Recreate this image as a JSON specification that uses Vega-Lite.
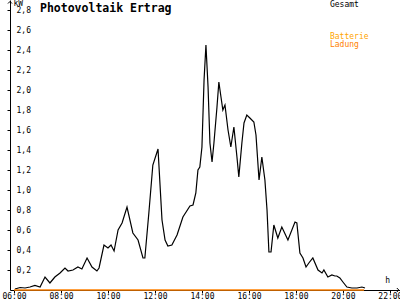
{
  "$schema": "https://vega.github.io/schema/vega-lite/v6.json",
  "width": 390,
  "height": 290,
  "autosize": "none",
  "padding": {"left": 10, "top": 0, "right": 0, "bottom": 10},
  "background": "white",
  "config": {"view": {"stroke": null}, "font": "DejaVu Sans Mono", "axis": {"labelOverlap": false, "grid": false, "title": null}},
  "title": {"text": "Photovoltaik Ertrag", "anchor": "start", "frame": "group", "orient": "top", "offset": -15, "dx": 30, "font": "DejaVu Sans Mono", "fontSize": 11.5, "fontWeight": "bold", "color": "black"},
  "datasets": {
    "gesamt": [
      {"t": 6.04, "kw": 0.01}, {"t": 6.26, "kw": 0.025}, {"t": 6.47, "kw": 0.02}, {"t": 6.68, "kw": 0.03},
      {"t": 6.89, "kw": 0.045}, {"t": 7.11, "kw": 0.03}, {"t": 7.32, "kw": 0.13}, {"t": 7.53, "kw": 0.07},
      {"t": 7.74, "kw": 0.13}, {"t": 7.96, "kw": 0.17}, {"t": 8.17, "kw": 0.22}, {"t": 8.30, "kw": 0.19},
      {"t": 8.51, "kw": 0.20}, {"t": 8.72, "kw": 0.23}, {"t": 8.89, "kw": 0.21}, {"t": 9.11, "kw": 0.32},
      {"t": 9.32, "kw": 0.23}, {"t": 9.53, "kw": 0.19}, {"t": 9.62, "kw": 0.22}, {"t": 9.83, "kw": 0.45},
      {"t": 10.00, "kw": 0.42}, {"t": 10.13, "kw": 0.45}, {"t": 10.26, "kw": 0.39}, {"t": 10.43, "kw": 0.60},
      {"t": 10.60, "kw": 0.67}, {"t": 10.81, "kw": 0.83}, {"t": 11.06, "kw": 0.57}, {"t": 11.28, "kw": 0.50},
      {"t": 11.49, "kw": 0.32}, {"t": 11.57, "kw": 0.32}, {"t": 11.74, "kw": 0.77}, {"t": 11.91, "kw": 1.25},
      {"t": 12.13, "kw": 1.41}, {"t": 12.30, "kw": 0.70}, {"t": 12.43, "kw": 0.50}, {"t": 12.55, "kw": 0.44},
      {"t": 12.72, "kw": 0.45}, {"t": 12.94, "kw": 0.55}, {"t": 13.19, "kw": 0.73}, {"t": 13.49, "kw": 0.84},
      {"t": 13.62, "kw": 0.85}, {"t": 13.74, "kw": 0.97}, {"t": 13.83, "kw": 1.20}, {"t": 13.91, "kw": 1.23},
      {"t": 14.00, "kw": 1.43}, {"t": 14.09, "kw": 2.10}, {"t": 14.17, "kw": 2.45}, {"t": 14.26, "kw": 2.03},
      {"t": 14.34, "kw": 1.47}, {"t": 14.43, "kw": 1.28}, {"t": 14.51, "kw": 1.47}, {"t": 14.64, "kw": 1.83},
      {"t": 14.72, "kw": 2.08}, {"t": 14.81, "kw": 1.93}, {"t": 14.89, "kw": 1.80}, {"t": 14.98, "kw": 1.85},
      {"t": 15.11, "kw": 1.60}, {"t": 15.23, "kw": 1.43}, {"t": 15.36, "kw": 1.63}, {"t": 15.49, "kw": 1.33},
      {"t": 15.57, "kw": 1.13}, {"t": 15.70, "kw": 1.47}, {"t": 15.79, "kw": 1.67}, {"t": 15.91, "kw": 1.75},
      {"t": 16.04, "kw": 1.72}, {"t": 16.21, "kw": 1.68}, {"t": 16.30, "kw": 1.55}, {"t": 16.43, "kw": 1.10},
      {"t": 16.55, "kw": 1.33}, {"t": 16.68, "kw": 1.10}, {"t": 16.77, "kw": 0.80}, {"t": 16.85, "kw": 0.38},
      {"t": 16.94, "kw": 0.38}, {"t": 17.06, "kw": 0.65}, {"t": 17.23, "kw": 0.52}, {"t": 17.40, "kw": 0.63},
      {"t": 17.66, "kw": 0.50}, {"t": 17.96, "kw": 0.68}, {"t": 18.04, "kw": 0.67}, {"t": 18.17, "kw": 0.37},
      {"t": 18.30, "kw": 0.32}, {"t": 18.43, "kw": 0.23}, {"t": 18.55, "kw": 0.27}, {"t": 18.72, "kw": 0.32},
      {"t": 18.94, "kw": 0.20}, {"t": 19.11, "kw": 0.17}, {"t": 19.19, "kw": 0.20}, {"t": 19.36, "kw": 0.13},
      {"t": 19.53, "kw": 0.15}, {"t": 19.66, "kw": 0.14}, {"t": 19.74, "kw": 0.14}, {"t": 19.87, "kw": 0.12},
      {"t": 20.00, "kw": 0.08}, {"t": 20.17, "kw": 0.03}, {"t": 20.38, "kw": 0.02}, {"t": 20.60, "kw": 0.02},
      {"t": 20.81, "kw": 0.03}, {"t": 20.94, "kw": 0.02}
    ],
    "ladung": [
      {"t": 6.0, "kw": 0}, {"t": 20.9, "kw": 0}
    ],
    "one": [{}]
  },
  "layer": [
    {
      "data": {"name": "gesamt"},
      "mark": {"type": "line", "color": "black", "strokeWidth": 1.2, "interpolate": "linear"},
      "encoding": {
        "x": {"field": "t", "type": "quantitative",
          "scale": {"domain": [5.83, 22.43], "nice": false, "zero": false},
          "axis": {"title": null, "grid": false, "values": [6, 8, 10, 12, 14, 16, 18, 20, 22], "tickCount": 20,
            "labelExpr": "(datum.value < 10 ? '0' : '') + datum.value + ':00'",
            "tickSize": 3, "labelPadding": -1, "labelBaseline": "top", "labelFlush": false, "labelOverlap": false,
            "labelFont": "DejaVu Sans Mono", "labelFontSize": 8, "labelColor": "black",
            "domainColor": "black", "tickColor": "black"}},
        "y": {"field": "kw", "type": "quantitative",
          "scale": {"domain": [0, 2.9], "nice": false},
          "axis": {"title": null, "grid": false, "tickCount": 30,
            "values": [0.2, 0.4, 0.6, 0.8, 1.0, 1.2, 1.4, 1.6, 1.8, 2.0, 2.2, 2.4, 2.6, 2.8],
            "labelExpr": "replace(format(datum.value, '.1f'), '.', ',')",
            "labelAlign": "left", "labelBaseline": "middle", "tickSize": 3, "labelPadding": -9,
            "labelFont": "DejaVu Sans Mono", "labelFontSize": 8, "labelColor": "black",
            "domainColor": "black", "tickColor": "black", "labelOverlap": false}}
      }
    },
    {
      "data": {"name": "ladung"},
      "mark": {"type": "line", "color": "#FF8000", "strokeWidth": 1.5},
      "encoding": {
        "x": {"field": "t", "type": "quantitative"},
        "y": {"field": "kw", "type": "quantitative"}
      }
    },
    {
      "data": {"name": "one"},
      "mark": {"type": "point", "shape": "M-1,1L0,0L1,1", "size": 16, "filled": false, "color": "black", "strokeWidth": 1, "opacity": 1},
      "encoding": {"x": {"datum": 5.83, "type": "quantitative"}, "y": {"datum": 2.885, "type": "quantitative"}}
    },
    {
      "data": {"name": "one"},
      "mark": {"type": "point", "shape": "M-1,-1L0,0L-1,1", "size": 16, "filled": false, "color": "black", "strokeWidth": 1, "opacity": 1},
      "encoding": {"x": {"datum": 22.38, "type": "quantitative"}, "y": {"datum": 0, "type": "quantitative"}}
    },
    {
      "data": {"name": "one"},
      "mark": {"type": "text", "text": "kW", "align": "left", "baseline": "middle", "fontSize": 8, "color": "black"},
      "encoding": {"x": {"datum": 5.98, "type": "quantitative"}, "y": {"datum": 2.86, "type": "quantitative"}}
    },
    {
      "data": {"name": "one"},
      "mark": {"type": "text", "text": "Gesamt", "align": "left", "baseline": "middle", "fontSize": 8, "color": "black"},
      "encoding": {"x": {"datum": 19.45, "type": "quantitative"}, "y": {"datum": 2.855, "type": "quantitative"}}
    },
    {
      "data": {"name": "one"},
      "mark": {"type": "text", "text": "Batterie", "align": "left", "baseline": "middle", "fontSize": 8, "color": "#FFA500"},
      "encoding": {"x": {"datum": 19.45, "type": "quantitative"}, "y": {"datum": 2.535, "type": "quantitative"}}
    },
    {
      "data": {"name": "one"},
      "mark": {"type": "text", "text": "Ladung", "align": "left", "baseline": "middle", "fontSize": 8, "color": "#FF8000"},
      "encoding": {"x": {"datum": 19.45, "type": "quantitative"}, "y": {"datum": 2.455, "type": "quantitative"}}
    },
    {
      "data": {"name": "one"},
      "mark": {"type": "text", "text": "h", "align": "left", "baseline": "middle", "fontSize": 8, "color": "black"},
      "encoding": {"x": {"datum": 21.8, "type": "quantitative"}, "y": {"datum": 0.09, "type": "quantitative"}}
    }
  ]
}
